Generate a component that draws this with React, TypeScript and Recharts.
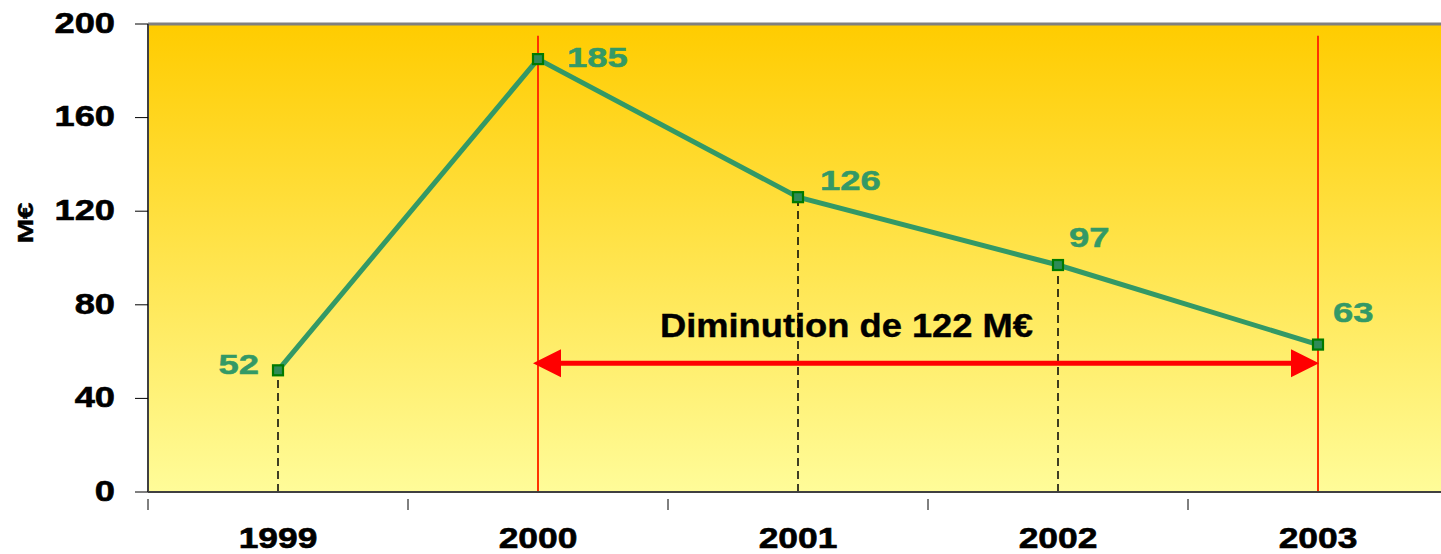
import React from 'react';
import { LineChart, Line, XAxis, YAxis, CartesianGrid, ReferenceLine, LabelList, Label } from 'recharts';

const years = ['1999', '2000', '2001', '2002', '2003'];
const amounts = [52, 185, 126, 97, 63];
const yTicks = [0, 40, 80, 120, 160, 200];
const arrowLevel = 55;
const redLineTop = 195;
const arrowText = 'Diminution de 122 M€';
const unitLabel = 'M€';

const data = years.map((y, i) => ({ year: y, value: amounts[i] }));

const FONT = '"Liberation Sans", Arial, sans-serif';
const GREEN = '#339966';
const HALF_BAND = 130;

const labelOffsets = [
  { dx: -19, dy: -6, anchor: 'end' },
  { dx: 29, dy: -2, anchor: 'start' },
  { dx: 22, dy: -17, anchor: 'start' },
  { dx: 11, dy: -28, anchor: 'start' },
  { dx: 15, dy: -33, anchor: 'start' },
];

const YTick = (props: any) => {
  const { x, y, payload } = props;
  return (
    <g transform={`translate(${x - 18},${y - 2})`}>
      <text transform="scale(1.21,1)" textAnchor="end" dy="0.36em" fontFamily={FONT} fontWeight="bold" fontSize={30} fill="#000" stroke="#000" strokeWidth={0.6}>
        {payload.value}
      </text>
    </g>
  );
};

const XTick = (props: any) => {
  const { x, y, payload } = props;
  return (
    <g>
      <line x1={x - HALF_BAND} x2={x - HALF_BAND} y1={y - 1} y2={y + 10} stroke="#000" strokeWidth={1} />
      <g transform={`translate(${x},${y + 48})`}>
        <text transform="scale(1.18,1)" textAnchor="middle" fontFamily={FONT} fontWeight="bold" fontSize={30} fill="#000" stroke="#000" strokeWidth={0.6}>
          {payload.value}
        </text>
      </g>
    </g>
  );
};

const SquareDot = (props: any) => {
  const { cx, cy } = props;
  if (cx == null || cy == null) return null;
  return <rect x={cx - 5} y={cy - 5} width={10} height={10} fill="#2E8B57" stroke="#007A00" strokeWidth={2.2} />;
};

const ValueLabel = (props: any) => {
  const { x, y, value, index } = props;
  const o = labelOffsets[index];
  return (
    <g transform={`translate(${x + o.dx},${y + o.dy})`}>
      <text transform="scale(1.3,1)" textAnchor={o.anchor} dy="0.36em" fontFamily={FONT} fontWeight="bold" fontSize={28} fill={GREEN} stroke={GREEN} strokeWidth={0.5}>
        {value}
      </text>
    </g>
  );
};

const ArrowShape = (props: any) => {
  const { x1, y1, x2 } = props;
  const lt = x1 - 5;
  const rt = x2 + 1;
  return (
    <g>
      <line x1={lt + 20} x2={rt - 20} y1={y1} y2={y1} stroke="#FF0000" strokeWidth={5} />
      <polygon points={`${lt},${y1} ${lt + 28},${y1 - 14} ${lt + 28},${y1 + 14}`} fill="#FF0000" />
      <polygon points={`${rt},${y1} ${rt - 28},${y1 - 14} ${rt - 28},${y1 + 14}`} fill="#FF0000" />
      <g transform={`translate(${x1 + 122},${y1 - 26})`}>
        <text transform="scale(1.1,1)" fontFamily={FONT} fontWeight="bold" fontSize={33} fill="#000" stroke="#000" strokeWidth={0.4}>
          {arrowText}
        </text>
      </g>
    </g>
  );
};

const UnitLabel = (props: any) => {
  const { viewBox } = props;
  const cx = viewBox.x + 25;
  const cy = viewBox.y + viewBox.height / 2 - 35;
  return (
    <g transform={`translate(${cx},${cy}) rotate(-90)`}>
      <text transform="scale(1.35,1)" textAnchor="middle" dy="0.36em" fontFamily={FONT} fontWeight="bold" fontSize={22} fill="#000" stroke="#000" strokeWidth={0.4}>
        {unitLabel}
      </text>
    </g>
  );
};

export default function App() {
  return (
    <div style={{ position: 'absolute', left: 0, top: 0, width: 1441, height: 554, overflow: 'hidden', background: '#fff' }}>
      <LineChart width={1460} height={554} data={data} margin={{ top: 24, right: 12, bottom: 0, left: 0 }}>
        <defs>
          <linearGradient id="bgGrad" x1="0" y1="0" x2="0" y2="1">
            <stop offset="0%" stopColor="#FFCC00" />
            <stop offset="100%" stopColor="#FFFC99" />
          </linearGradient>
        </defs>
        <CartesianGrid horizontal={false} vertical={false} fill="url(#bgGrad)" />
        <XAxis
          dataKey="year"
          height={62}
          padding={{ left: HALF_BAND, right: HALF_BAND }}
          axisLine={{ stroke: '#404040', strokeWidth: 2 }}
          tickLine={false}
          tick={<XTick />}
          interval={0}
        />
        <YAxis
          width={148}
          domain={[0, 200]}
          ticks={yTicks}
          axisLine={{ stroke: '#404040', strokeWidth: 2 }}
          tickLine={{ stroke: '#000', strokeWidth: 1 }}
          tickSize={13}
          tick={<YTick />}
          interval={0}
        >
          <Label content={<UnitLabel />} />
        </YAxis>
        <ReferenceLine y={200} stroke="#808080" strokeWidth={3} />
        {data.map((d) => (
          <ReferenceLine
            key={'d' + d.year}
            segment={[{ x: d.year, y: 0 }, { x: d.year, y: d.value }]}
            stroke="#000"
            strokeWidth={1.5}
            strokeDasharray="8 5"
          />
        ))}
        <ReferenceLine segment={[{ x: '2000', y: 0 }, { x: '2000', y: redLineTop }]} stroke="#FF3300" strokeWidth={2} />
        <ReferenceLine segment={[{ x: '2003', y: 0 }, { x: '2003', y: redLineTop }]} stroke="#FF3300" strokeWidth={2} />
        <ReferenceLine segment={[{ x: '2000', y: arrowLevel }, { x: '2003', y: arrowLevel }]} shape={<ArrowShape />} />
        <Line
          type="linear"
          dataKey="value"
          stroke={GREEN}
          strokeWidth={5}
          dot={<SquareDot />}
          activeDot={false}
          isAnimationActive={false}
        >
          <LabelList dataKey="value" content={<ValueLabel />} />
        </Line>
      </LineChart>
    </div>
  );
}
